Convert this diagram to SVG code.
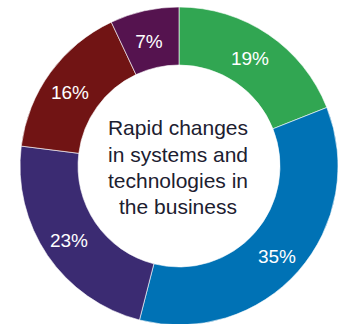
<svg xmlns="http://www.w3.org/2000/svg" width="341" height="324" viewBox="0 0 341 324">
<style>
.seg{stroke:#ffffff;stroke-width:0.6}
.pct{font-family:"Liberation Sans",Arial,sans-serif;font-size:19px;fill:#ffffff;text-anchor:middle}
.ctr{font-family:"Liberation Sans",Arial,sans-serif;font-size:21px;fill:#1c2030;text-anchor:middle}
</style>
<rect width="341" height="324" fill="#ffffff"/>
<g id="slice-19">
<path class="seg" fill="#31a652" d="M179,7 A159,159 0 0 1 326.84,107.47 L272.91,128.82 A101,101 0 0 0 179,65 Z"/>
<text class="pct" x="250" y="65">19%</text>
</g>
<g id="slice-35">
<path class="seg" fill="#0072b5" d="M326.84,107.47 A159,159 0 0 1 139.46,320.01 L153.88,263.83 A101,101 0 0 0 272.91,128.82 Z"/>
<text class="pct" x="277" y="263">35%</text>
</g>
<g id="slice-23">
<path class="seg" fill="#3b2b72" d="M139.46,320.01 A159,159 0 0 1 21.26,146.08 L78.80,153.34 A101,101 0 0 0 153.88,263.83 Z"/>
<text class="pct" x="69" y="247">23%</text>
</g>
<g id="slice-16">
<path class="seg" fill="#711414" d="M21.26,146.08 A159,159 0 0 1 111.30,22.14 L135.99,74.62 A101,101 0 0 0 78.80,153.34 Z"/>
<text class="pct" x="70" y="99">16%</text>
</g>
<g id="slice-7">
<path class="seg" fill="#55134f" d="M111.30,22.14 A159,159 0 0 1 179,7 L179,65 A101,101 0 0 0 135.99,74.62 Z"/>
<text class="pct" x="149" y="48">7%</text>
</g>
<g id="center-label">
<text class="ctr" x="178" y="134.5">Rapid changes</text>
<text class="ctr" x="178" y="161.5">in systems and</text>
<text class="ctr" x="178" y="188">technologies in</text>
<text class="ctr" x="178" y="214">the business</text>
</g>
</svg>
